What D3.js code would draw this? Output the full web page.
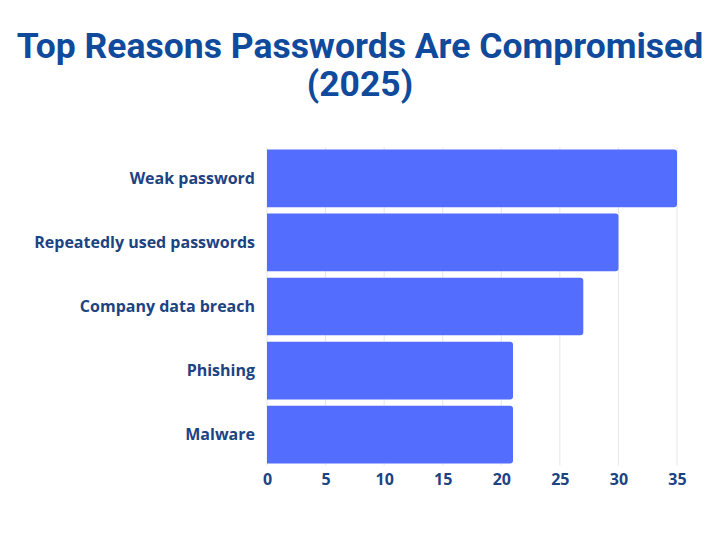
<!DOCTYPE html>
<html>
<head>
  <meta charset="utf-8">
  <title>Top Reasons Passwords Are Compromised</title>
  <script src="https://d3js.org/d3.v7.min.js"></script>
  <style>
    body { margin: 0; background: #fff; }
  </style>
</head>
<body>
<script type="text/javascript">
  var reasons = ["Weak password", "Repeatedly used passwords", "Company data breach", "Phishing", "Malware"];
  var shares = [35, 30, 27, 21, 21];
  var xTicks = [0, 5, 10, 15, 20, 25, 30, 35];
  var titleLines = ["Top Reasons Passwords Are Compromised", "(2025)"];

  var w = 720;
  var h = 540;
  var margin = {top: 149.5, right: 43, bottom: 76.5, left: 267};

  var svg = d3.select("body").append("svg")
    .attr("width", w)
    .attr("height", h);

  var title = svg.append("text")
    .attr("text-anchor", "middle")
    .attr("font-family", "Roboto")
    .attr("font-weight", 700)
    .attr("font-size", "35.5px")
    .attr("fill", "#0f4a9c");
  title.selectAll("tspan")
    .data(titleLines)
    .enter()
    .append("tspan")
    .attr("x", w / 2)
    .attr("y", function(d, i){ return 58 + i * 38; })
    .text(function(d){ return d; });

  var xScale = d3.scaleLinear()
    .domain([0, 35])
    .range([margin.left, w - margin.right]);

  var yScale = d3.scaleBand()
    .domain(reasons)
    .range([margin.top, h - margin.bottom])
    .paddingInner(0.1)
    .paddingOuter(0);

  // grid
  svg.append("g")
    .selectAll("line")
    .data(xTicks)
    .enter()
    .append("line")
    .attr("x1", function(d){ return xScale(d); })
    .attr("x2", function(d){ return xScale(d); })
    .attr("y1", margin.top - 2)
    .attr("y2", h - margin.bottom + 2)
    .attr("stroke", "#e6e6e6")
    .attr("stroke-width", 1);

  svg.append("g")
    .selectAll("path")
    .data(reasons)
    .enter()
    .append("path")
    .attr("fill", "#536dfe")
    .attr("d", function(d, i){
      var x0 = xScale(0), x1 = xScale(shares[i]);
      var y0 = yScale(d), bh = yScale.bandwidth(), r = 3;
      return "M" + x0 + "," + y0 +
        "H" + (x1 - r) +
        "Q" + x1 + "," + y0 + " " + x1 + "," + (y0 + r) +
        "V" + (y0 + bh - r) +
        "Q" + x1 + "," + (y0 + bh) + " " + (x1 - r) + "," + (y0 + bh) +
        "H" + x0 + "Z";
    });

  svg.append("g")
    .selectAll("text")
    .data(reasons)
    .enter()
    .append("text")
    .attr("x", margin.left - 12)
    .attr("y", function(d){ return yScale(d) + yScale.bandwidth() / 2; })
    .attr("dy", "0.35em")
    .attr("text-anchor", "end")
    .attr("font-family", "Open Sans")
    .attr("font-weight", 700)
    .attr("font-size", "16px")
    .attr("fill", "#1c4382")
    .text(function(d){ return d; });

  var xAxis = d3.axisBottom(xScale)
    .tickValues(xTicks)
    .tickSize(0)
    .tickPadding(10);

  var axisG = svg.append("g")
    .attr("transform", "translate(0," + (h - margin.bottom) + ")")
    .call(xAxis);
  axisG.select(".domain").remove();
  axisG.selectAll("text")
    .attr("font-family", "Open Sans")
    .attr("font-weight", 700)
    .attr("font-size", "16px")
    .attr("fill", "#1c4382");
</script>
</body>
</html>
